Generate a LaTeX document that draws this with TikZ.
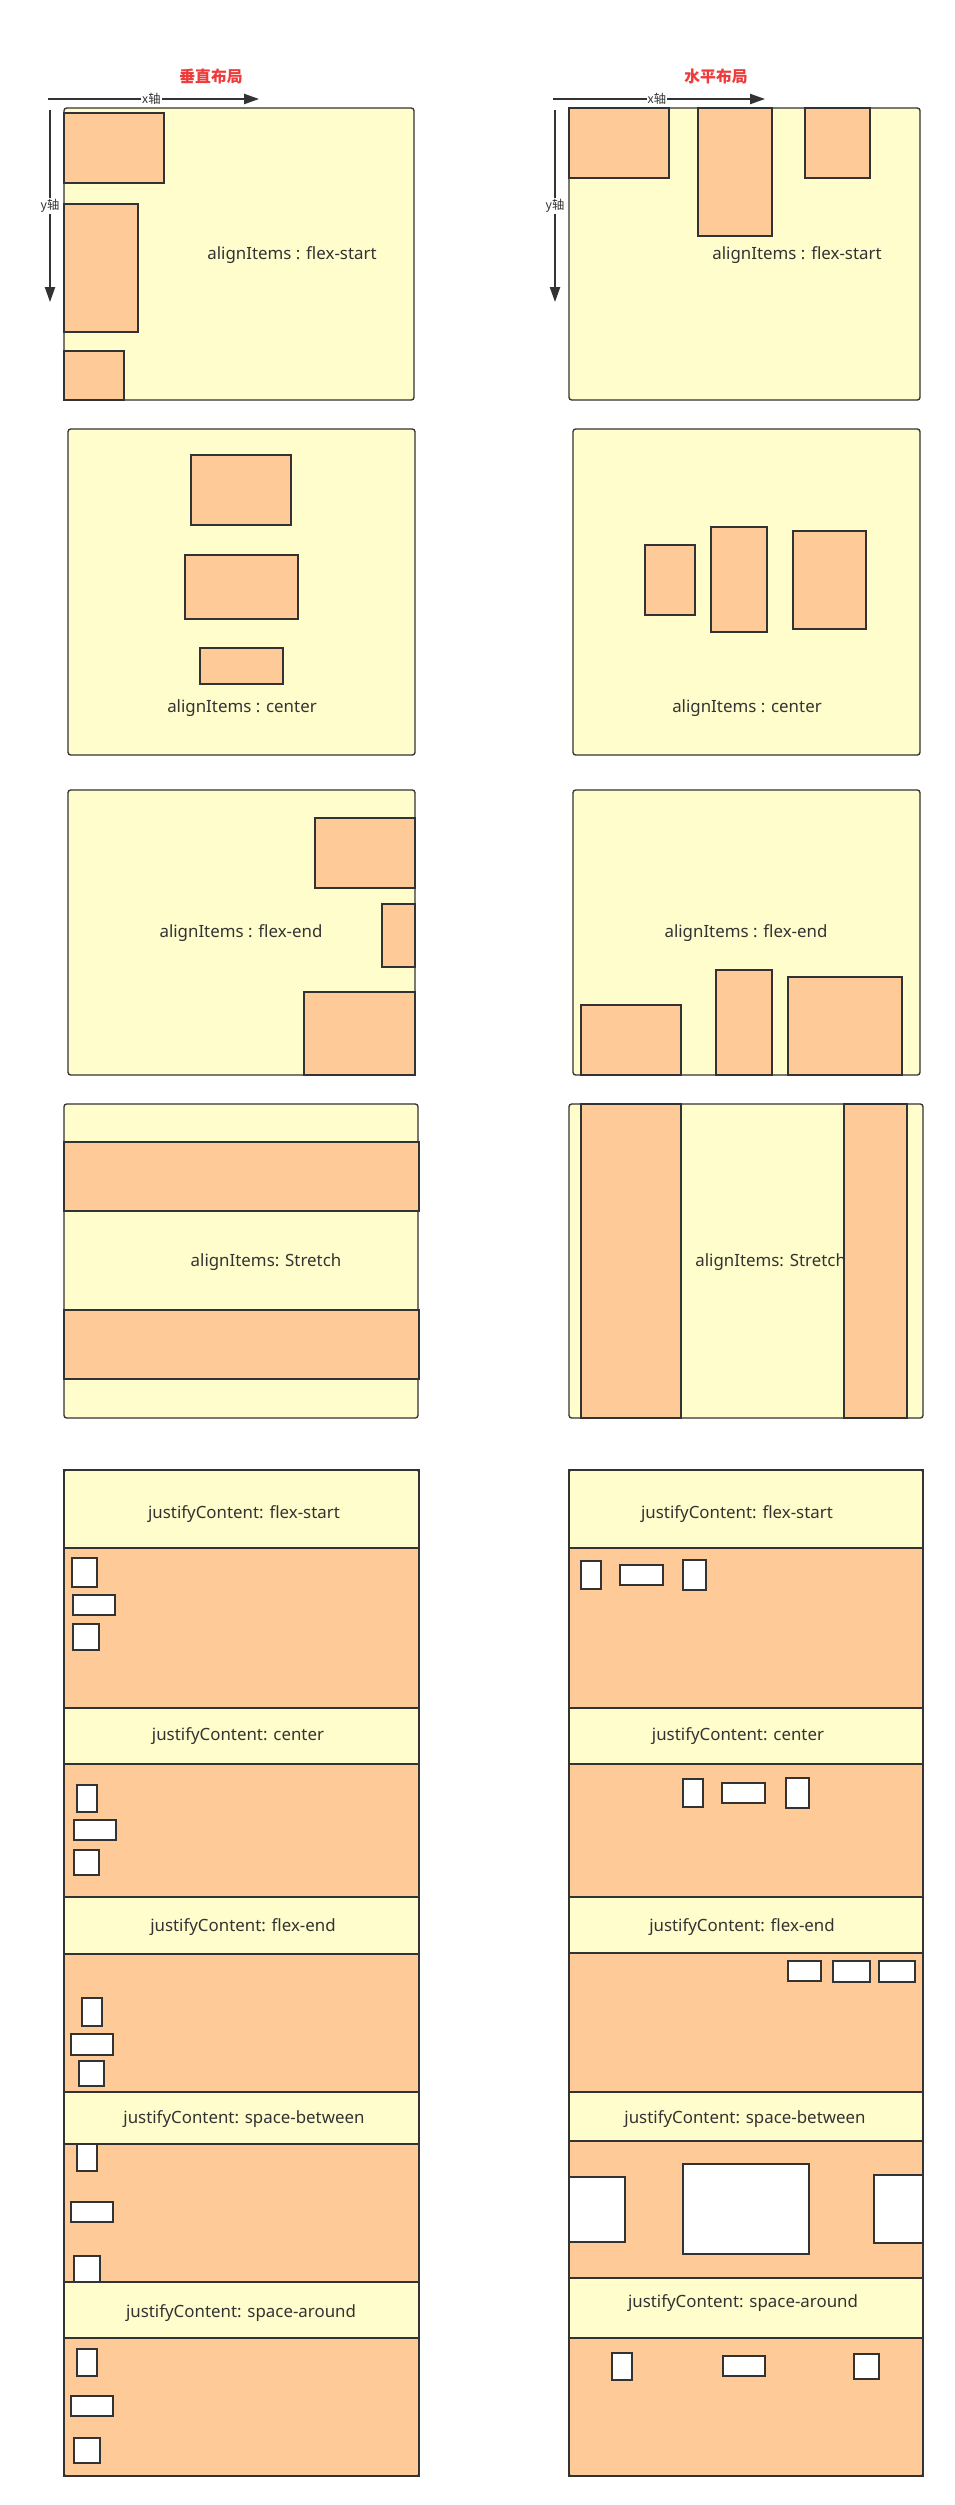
\documentclass[tikz,border=0pt]{standalone}
\usepackage{fontspec}
\setmainfont{Noto Sans}
\newfontfamily\cjk{Noto Sans CJK SC}
\usepackage{xcolor}
\usepackage{tikz}
\usetikzlibrary{arrows.meta}
\definecolor{boxline}{HTML}{333333}
\definecolor{panelfill}{HTML}{FFFDCB}
\definecolor{itemfill}{HTML}{FECB98}
\definecolor{titlered}{HTML}{EE3B3B}
\tikzset{
  panel/.style={draw=boxline,fill=panelfill,line width=0.75pt,rounded corners=1.5pt},
  item/.style={draw=boxline,fill=itemfill,line width=0.75pt},
  chip/.style={draw=boxline,fill=white,line width=0.75pt},
  head/.style={draw=boxline,fill=panelfill,line width=0.75pt},
  axis/.style={draw=boxline,line width=0.9pt},
  caption/.style={text=boxline,font=\fontsize{9.6}{11}\selectfont,inner sep=0pt},
  heading/.style={text=titlered,font=\cjk\bfseries\fontsize{9}{11}\selectfont},
  axislbl/.style={fill=white,text=boxline,font=\cjk\fontsize{7}{8}\selectfont,inner sep=0.6pt},
}
\newcommand{\drawPanel}[4]{% top left x,y; bottom right x,y
  \draw[panel] (#1,#2) rectangle (#3,#4);
}
\newcommand{\drawItem}[4]{% top left x,y; bottom right x,y
  \draw[item] (#1,#2) rectangle (#3,#4);
}
\newcommand{\drawChip}[4]{% top left x,y; bottom right x,y
  \draw[chip] (#1,#2) rectangle (#3,#4);
}
\newcommand{\drawHead}[4]{% top left x,y; bottom right x,y
  \draw[head] (#1,#2) rectangle (#3,#4);
}

\begin{document}
\begin{tikzpicture}[x=0.02cm,y=-0.02cm,>={Triangle[length=8.5pt,width=5.8pt]}]
\useasboundingbox[fill=white] (0,0) rectangle (955,2505);

% Titles
\node[heading] (ttlV) at (211,76) {垂直布局};
\node[heading] (ttlH) at (716,76) {水平布局};

% Axes, vertical layout
\coordinate (vxs) at (48,99);
\coordinate (vxe) at (259,99);
\coordinate (vys) at (50,110);
\coordinate (vye) at (50,302);
\draw[axis,->] (vxs) -- (vxe) node[axislbl,pos=0.49] (vxl) {x轴};
\draw[axis,->] (vys) -- (vye) node[axislbl,pos=0.5] (vyl) {y轴};

% Axes, horizontal layout
\coordinate (hxs) at (553,99);
\coordinate (hxe) at (765,99);
\coordinate (hys) at (555,110);
\coordinate (hye) at (555,302);
\draw[axis,->] (hxs) -- (hxe) node[axislbl,pos=0.49] (hxl) {x轴};
\draw[axis,->] (hys) -- (hye) node[axislbl,pos=0.5] (hyl) {y轴};

% alignItems: flex-start
\drawPanel{64}{108}{414}{400}
\drawItem{64}{113}{164}{183}
\drawItem{64}{204}{138}{332}
\drawItem{64}{351}{124}{400}
\node[caption] (vstart) at (292,255) {alignItems : flex-start};

\drawPanel{569}{108}{920}{400}
\drawItem{569}{108}{669}{178}
\drawItem{698}{108}{772}{236}
\drawItem{805}{108}{870}{178}
\node[caption] (hstart) at (797,255) {alignItems : flex-start};

% alignItems: center
\drawPanel{68}{429}{415}{755}
\drawItem{191}{455}{291}{525}
\drawItem{185}{555}{298}{619}
\drawItem{200}{648}{283}{684}
\node[caption] (vcenter) at (242,708) {alignItems : center};

\drawPanel{573}{429}{920}{755}
\drawItem{645}{545}{695}{615}
\drawItem{711}{527}{767}{632}
\drawItem{793}{531}{866}{629}
\node[caption] (hcenter) at (747,708) {alignItems : center};

% alignItems: flex-end
\drawPanel{68}{790}{415}{1075}
\drawItem{315}{818}{415}{888}
\drawItem{382}{904}{415}{967}
\drawItem{304}{992}{415}{1075}
\node[caption] (vend) at (241,933) {alignItems : flex-end};

\drawPanel{573}{790}{920}{1075}
\drawItem{581}{1005}{681}{1075}
\drawItem{716}{970}{772}{1075}
\drawItem{788}{977}{902}{1075}
\node[caption] (hend) at (746,933) {alignItems : flex-end};

% alignItems: Stretch
\drawPanel{64}{1104}{418}{1418}
\drawItem{64}{1142}{419}{1211}
\drawItem{64}{1310}{419}{1379}
\node[caption] (vstretch) at (266,1262) {alignItems: Stretch};

\drawPanel{569}{1104}{923}{1418}
\drawItem{581}{1104}{681}{1418}
\node[caption,anchor=west] (hstretch) at (695,1262) {alignItems: Stretch};
\drawItem{844}{1104}{907}{1418}

% justifyContent, vertical layout
\drawHead{64}{1470}{419}{1548}
\drawItem{64}{1548}{419}{1708}
\drawHead{64}{1708}{419}{1764}
\drawItem{64}{1764}{419}{1897}
\drawHead{64}{1897}{419}{1954}
\drawItem{64}{1954}{419}{2092}
\drawHead{64}{2092}{419}{2144}
\drawItem{64}{2144}{419}{2282}
\drawHead{64}{2282}{419}{2338}
\drawItem{64}{2338}{419}{2476}
\node[caption] (vjstart) at (244,1514) {justifyContent: flex-start};
\node[caption] (vjcenter) at (238,1736) {justifyContent: center};
\node[caption] (vjend) at (243,1927) {justifyContent: flex-end};
\node[caption] (vjbetween) at (244,2119) {justifyContent: space-between};
\node[caption] (vjaround) at (241,2313) {justifyContent: space-around};

\drawChip{72}{1558}{97}{1587}
\drawChip{73}{1595}{115}{1615}
\drawChip{73}{1624}{99}{1650}

\drawChip{77}{1785}{97}{1812}
\drawChip{74}{1820}{116}{1840}
\drawChip{74}{1850}{99}{1875}

\drawChip{82}{1998}{102}{2026}
\drawChip{71}{2034}{113}{2055}
\drawChip{79}{2061}{104}{2086}

\drawChip{77}{2144}{97}{2171}
\drawChip{71}{2202}{113}{2222}
\drawChip{74}{2256}{100}{2282}

\drawChip{77}{2349}{97}{2376}
\drawChip{71}{2396}{113}{2416}
\drawChip{74}{2438}{100}{2463}
\draw[panel,fill=none] (64,1470) rectangle (419,2476);

% justifyContent, horizontal layout
\drawHead{569}{1470}{923}{1548}
\drawItem{569}{1548}{923}{1708}
\drawHead{569}{1708}{923}{1764}
\drawItem{569}{1764}{923}{1897}
\drawHead{569}{1897}{923}{1953}
\drawItem{569}{1953}{923}{2092}
\drawHead{569}{2092}{923}{2141}
\drawItem{569}{2141}{923}{2278}
\drawHead{569}{2278}{923}{2338}
\drawItem{569}{2338}{923}{2476}
\node[caption] (hjstart) at (737,1514) {justifyContent: flex-start};
\node[caption] (hjcenter) at (738,1736) {justifyContent: center};
\node[caption] (hjend) at (742,1927) {justifyContent: flex-end};
\node[caption] (hjbetween) at (745,2119) {justifyContent: space-between};
\node[caption] (hjaround) at (743,2303) {justifyContent: space-around};

\drawChip{581}{1561}{601}{1589}
\drawChip{620}{1565}{663}{1585}
\drawChip{683}{1560}{706}{1590}

\drawChip{683}{1779}{703}{1807}
\drawChip{722}{1783}{765}{1803}
\drawChip{786}{1778}{809}{1808}

\drawChip{788}{1961}{821}{1981}
\drawChip{833}{1961}{870}{1982}
\drawChip{879}{1961}{915}{1982}

\drawChip{569}{2177}{625}{2242}
\drawChip{683}{2164}{809}{2254}
\drawChip{874}{2175}{923}{2243}

\drawChip{612}{2353}{632}{2380}
\drawChip{723}{2356}{765}{2376}
\drawChip{854}{2354}{879}{2379}
\draw[panel,fill=none] (569,1470) rectangle (923,2476);
\end{tikzpicture}
\end{document}
